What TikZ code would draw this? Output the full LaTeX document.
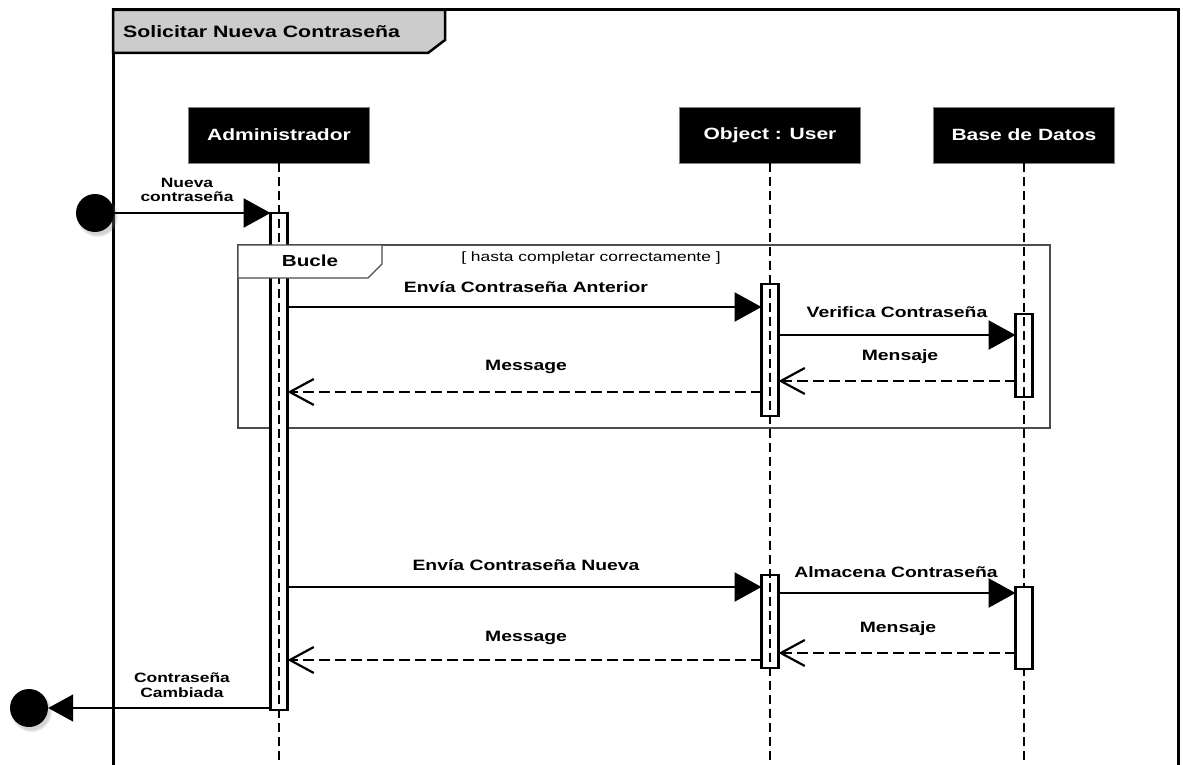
\documentclass[tikz,border=0pt]{standalone}
\usepackage{fontspec}
\setmainfont[FakeStretch=1.29]{Liberation Sans}
\usetikzlibrary{arrows.meta,shadows}
\begin{document}
\begin{tikzpicture}[x=1pt,y=-1pt,
  lbl/.style={font=\bfseries\fontsize{15}{17}\selectfont, inner sep=0pt},
  side/.style={font=\bfseries\fontsize{13.5}{14.5}\selectfont, align=center, inner sep=0pt},
  head/.style={fill=black, draw=gray, text=white, font=\bfseries\fontsize{16.3}{18}\selectfont, minimum width=181pt, minimum height=56pt, inner sep=0pt},
  act/.style={draw=black, fill=white, line width=2.5pt, minimum width=17pt, inner sep=0pt, outer sep=0pt},
  life/.style={line width=2.8pt, dash pattern=on 9pt off 5pt},
  sync/.style={line width=2.6pt, -{Triangle[length=27pt,width=29pt]}},
  ret/.style={line width=2.6pt, dash pattern=on 11pt off 5pt, -{Straight Barb[length=24pt,width=26pt,line width=2.2pt]}},
  dot/.style={circle, fill=black, minimum size=38pt, inner sep=0pt, circular drop shadow={shadow xshift=2pt,shadow yshift=-3pt,opacity=0.35}},
  loopline/.style={draw=gray!60!black, line width=1.2pt}
]
\useasboundingbox (0,0) rectangle (1183,765);

% outer frame
\draw[line width=3pt] (113,780) -- (113,10) -- (1178,10) -- (1178,780);
\draw[fill=gray!40, line width=2.5pt] (113,10) -- (445,10) -- (445,40) -- (428,53) -- (113,53) -- cycle;
\node[anchor=west, font=\bfseries\fontsize{16.5}{18}\selectfont, inner sep=0pt] (title) at (123,32) {Solicitar Nueva Contraseña};

% lifeline heads
\node[head] (adm) at (279,135) {Administrador};
\node[head] (usr) at (770,135) {Object : User};
\node[head] (db) at (1024,135) {Base de Datos};
\coordinate (admEnd) at (279,770);
\coordinate (usrEnd) at (770,770);
\coordinate (dbEnd) at (1024,770);

% loop frame
\node[loopline, minimum width=812pt, minimum height=183pt, inner sep=0pt] (loop) at (644,336.5) {};

% activations
\node[act, minimum height=497pt] (a0) at (279,461.5) {};
\node[act, minimum height=132pt] (u1) at (770,350) {};
\node[act, minimum height=83pt] (d1) at (1024,355.5) {};
\node[act, minimum height=93pt] (u2) at (770,621.5) {};

% lifelines
\draw[life] (adm.south) -- (admEnd);
\draw[life] (usr.south) -- (usrEnd);
\draw[life] (db.south) -- (dbEnd);

\node[act, minimum height=82pt] (d2) at (1024,628) {};

% loop tab
\draw[loopline, fill=white] (238,245) -- (382,245) -- (382,264) -- (368,278) -- (238,278) -- cycle;
\node[font=\bfseries\fontsize{16}{18}\selectfont, inner sep=0pt] (bucle) at (310,261) {Bucle};
\node[font=\fontsize{13.5}{15}\selectfont, inner sep=0pt] (guard) at (591,258) {[ hasta completar correctamente ]};

% message levels
\coordinate (y1) at (0,307);
\coordinate (y2) at (0,335);
\coordinate (y3) at (0,381);
\coordinate (y4) at (0,392);
\coordinate (y5) at (0,587);
\coordinate (y6) at (0,593);
\coordinate (y7) at (0,653);
\coordinate (y8) at (0,660);
\coordinate (y9) at (0,708);

% start / end
\node[dot] (start) at (95,213) {};
\node[dot] (stop) at (29,708) {};
\draw[sync] (start) -- (a0.north west);
\node[side] (ls) at (187,190) {Nueva\\contraseña};
\draw[line width=1.4pt, -{Triangle[length=25pt,width=27pt]}] (a0.west |- y9) -- (stop.east);
\node[side] (le) at (182,685) {Contraseña\\Cambiada};

% messages
\draw[sync] (a0.east |- y1) -- (u1.west |- y1);
\node[lbl] (l1) at (526,287) {Envía Contraseña Anterior};
\draw[sync] (u1.east |- y2) -- (d1.west |- y2);
\node[lbl] (l2) at (897,312) {Verifica Contraseña};
\draw[ret] (d1.west |- y3) -- (u1.east |- y3);
\node[lbl] (l3) at (900,357) {Mensaje};
\draw[ret] (u1.west |- y4) -- (a0.east |- y4);
\node[lbl] (l4) at (526,367) {Message};

\draw[sync] (a0.east |- y5) -- (u2.west |- y5);
\node[lbl] (l5) at (526,565) {Envía Contraseña Nueva};
\draw[sync] (u2.east |- y6) -- (d2.west |- y6);
\node[lbl] (l6) at (896,572) {Almacena Contraseña};
\draw[ret] (d2.west |- y7) -- (u2.east |- y7);
\node[lbl] (l7) at (898,629) {Mensaje};
\draw[ret] (u2.west |- y8) -- (a0.east |- y8);
\node[lbl] (l8) at (526,638) {Message};
\end{tikzpicture}
\end{document}
